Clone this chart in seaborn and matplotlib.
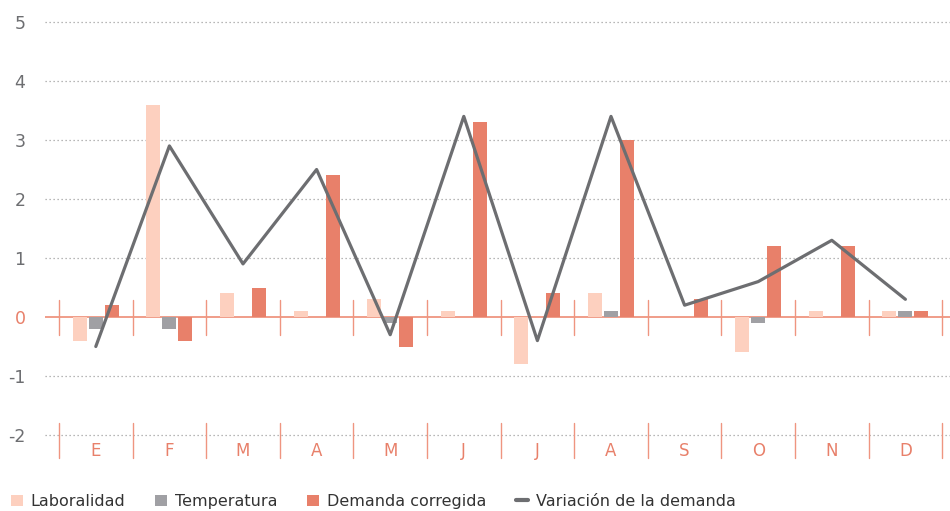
import matplotlib
matplotlib.use("Agg")
import matplotlib.pyplot as plt
import seaborn as sns
import pandas as pd
import numpy as np
from matplotlib.patches import Patch
from matplotlib.lines import Line2D

meses = ["E", "F", "M", "A", "M", "J", "J", "A", "S", "O", "N", "D"]
laboralidad = [-0.4, 3.6, 0.4, 0.1, 0.3, 0.1, -0.8, 0.4, 0.0, -0.6, 0.1, 0.1]
temperatura = [-0.2, -0.2, 0.0, 0.0, -0.1, 0.0, 0.0, 0.1, 0.0, -0.1, 0.0, 0.1]
demanda_corregida = [0.2, -0.4, 0.5, 2.4, -0.5, 3.3, 0.4, 3.0, 0.3, 1.2, 1.2, 0.1]
variacion = [-0.5, 2.9, 0.9, 2.5, -0.3, 3.4, -0.4, 3.4, 0.2, 0.6, 1.3, 0.3]
yticks = [-2, -1, 0, 1, 2, 3, 4, 5]

series = ["Laboralidad", "Temperatura", "Demanda corregida"]
colores = ["#fdd0bf", "#a0a0a4", "#e8806a"]
c_linea = "#6d6e71"
c_salmon = "#e8806a"

sns.set_theme(style="white")
plt.rcParams["font.family"] = ["DejaVu Sans"]

rows = []
for i in range(12):
    for s, vals in zip(series, [laboralidad, temperatura, demanda_corregida]):
        rows.append({"idx": i, "serie": s, "valor": vals[i]})
df = pd.DataFrame(rows)

W, H = 950, 511
fig = plt.figure(figsize=(W / 100, H / 100), dpi=100)
px_unit = 59.0
y0 = 317.0
ax_top, ax_bot = 0.0, 472.0
ax = fig.add_axes([45 / W, 1 - ax_bot / H, (W - 45) / W, (ax_bot - ax_top) / H])

sns.barplot(data=df, x="idx", y="valor", hue="serie", hue_order=series,
            palette=colores, width=0.652, gap=0.125, ax=ax, legend=False,
            saturation=1, zorder=3, errorbar=None, linewidth=0, edgecolor="none")
sns.lineplot(x=np.arange(12), y=variacion, color=c_linea, linewidth=2.3,
             ax=ax, zorder=5)

month_w = 73.6
xl = -0.5 - 14 / month_w
xr = -0.5 + (W - 59) / month_w
ax.set_xlim(xl, xr)
ax.set_ylim((y0 - ax_bot) / px_unit, (y0 - ax_top) / px_unit)

# grid lines
for t in yticks:
    if t == 0:
        ax.axhline(0, color="#ef9580", linewidth=1.3, zorder=2)
    else:
        ax.axhline(t, color="#a0a0a0", linewidth=0.9, linestyle=(0, (1, 2.2)), zorder=1)

# month separators
for k in range(13):
    xs = k - 0.5
    ax.plot([xs, xs], [0.29, -0.31], color="#ef9580", linewidth=1.0, zorder=2)
    ax.plot([xs, xs], [-1.80, -2.39], color="#ef9580", linewidth=1.0, zorder=2)

for i, m in enumerate(meses):
    ax.text(i, -2.27, m, ha="center", va="center", color=c_salmon, fontsize=12)

ax.set_yticks(yticks)
ax.set_yticklabels([str(t) for t in yticks])
for lab, t in zip(ax.get_yticklabels(), yticks):
    lab.set_color(c_salmon if t == 0 else c_linea)
    lab.set_fontsize(12.5)
ax.tick_params(axis="y", length=0, pad=14)
ax.set_xticks([])
ax.set_xlabel("")
ax.set_ylabel("")
for sp in ax.spines.values():
    sp.set_visible(False)

handles = [Patch(facecolor=c, edgecolor="none") for c in colores]
handles.append(Line2D([0], [0], color=c_linea, linewidth=3))
labels = series + ["Variación de la demanda"]
fig.legend(handles, labels, loc="lower left", bbox_to_anchor=(0.0, -0.018),
           ncol=4, frameon=False, fontsize=11.5, handlelength=0.75,
           handleheight=0.75, handletextpad=0.45, columnspacing=1.9,
           labelcolor="#333333", borderaxespad=0.3)

fig.savefig("out.png", dpi=100)
